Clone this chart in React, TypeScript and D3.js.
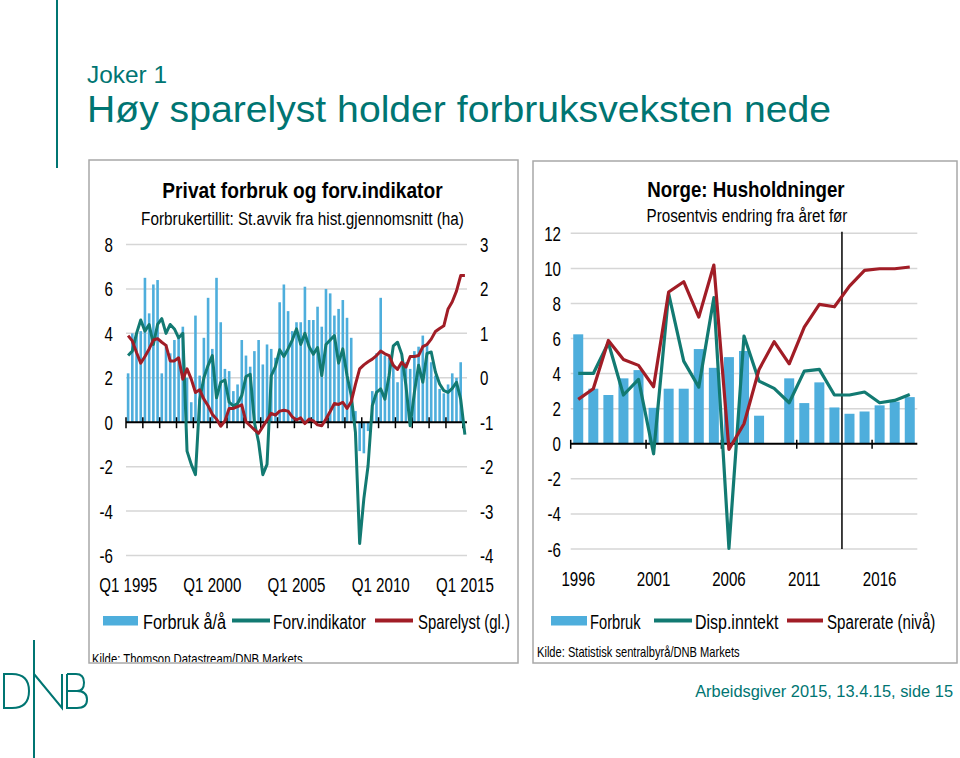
import React from "react";
import * as d3 from "d3";

// ---------- Left chart data (quarterly, Q1 1995 – Q1 2015) ----------
const quarters: string[] = d3.range(81).map((i) => `Q${(i % 4) + 1} ${1995 + Math.floor(i / 4)}`);
const leftXTickLabels = ["Q1 1995", "Q1 2000", "Q1 2005", "Q1 2010", "Q1 2015"];
const leftAxisTicks = [8, 6, 4, 2, 0, -2, -4, -6];
const rightAxisTicks = [3, 2, 1, 0, -1, -2, -3, -4];

// Forbruk å/å (left axis, %)
const forbrukAA: (number | null)[] = [
  2.2, 4.0, 4.0, 4.1, 6.5, 4.9, 6.2, 6.4, 2.2, 3.5,
  3.1, 3.7, 3.8, 4.3, 2.0, 0.9, 4.8, 2.1, 3.8, 5.6,
  3.3, 6.5, 4.5, 2.4, 2.3, 1.4, 1.7, 3.7, 3.0, 2.5,
  3.2, 3.7, 2.6, 3.5, 3.3, 2.9, 5.4, 6.2, 5.0, 4.1,
  4.5, 4.5, 6.1, 4.6, 4.6, 5.2, 4.3, 6.0, 5.8, 4.8,
  5.1, 5.5, 4.7, 3.8, 0.5, -1.3, -1.4, -0.4, 1.4, 3.1,
  5.6, 3.0, 2.9, 2.6, 1.8, 2.6, 2.7, 2.4, 3.2, 3.4,
  3.9, 3.5, 2.7, 2.1, 1.5, 1.3, 1.7, 2.2, 2.0, 2.7,
  null,
];

// Forv.indikator (right axis, st.avvik)
const forvIndikator: number[] = [
  0.5, 0.6, 1.0, 1.3, 1.05, 1.2, 0.75, 1.2, 1.33, 1.0,
  1.2, 1.1, 0.9, 1.0, -1.65, -1.95, -2.18, -0.5, 0.0, 0.28,
  0.5, -0.45, -0.1, -0.05, -0.55, -0.63, -0.58, -0.4, 0.03, 0.08,
  -1.0, -1.45, -2.18, -1.95, 0.05, 0.25, 0.63, 0.48, 0.65, 0.85,
  1.1, 0.75, 1.0, 0.7, 0.53, 0.68, 0.05, 0.75, 0.85, 0.95,
  0.33, 0.65, 0.05, -0.4, -1.23, -3.73, -2.72, -1.98, -0.63, -0.33,
  -0.25, -0.48, 0.05, 0.72, 0.8, 0.53, -0.18, -1.08, -0.33, 0.28,
  -0.1, 0.55, 0.58, 0.13, -0.14, -0.29, -0.33, -0.24, -0.1, -0.48,
  -1.28,
];

// Sparelyst (gl.) (right axis)
const sparelyst: number[] = [
  0.95, 0.83, 0.57, 0.33, 0.48, 0.65, 0.85, 0.88, 0.8, 0.73,
  0.38, 0.38, 0.45, -0.03, 0.2, -0.03, -0.33, -0.27, -0.48, -0.63,
  -0.82, -0.93, -1.09, -0.97, -0.69, -0.69, -0.65, -0.61, -0.99, -1.08,
  -1.17, -1.25, -1.1, -0.95, -0.8, -0.84, -0.75, -0.73, -0.75, -0.88,
  -0.95, -0.9, -1.03, -0.93, -0.97, -1.06, -1.08, -0.93, -0.76, -0.58,
  -0.6, -0.55, -0.69, -0.54, -0.15, 0.2, 0.29, 0.36, 0.42, 0.5,
  0.6, 0.54, 0.5, 0.28, 0.19, 0.35, 0.24, 0.48, 0.48, 0.5,
  0.7, 0.75, 0.87, 1.04, 1.11, 1.17, 1.55, 1.71, 1.95, 2.3,
  2.3,
];

// ---------- Right chart data (annual 1996 – 2018) ----------
const years: string[] = d3.range(1996, 2019).map(String);
const rightXTickLabels = ["1996", "2001", "2006", "2011", "2016"];
const rightChartTicks = [12, 10, 8, 6, 4, 2, 0, -2, -4, -6];
const forbrukYear: number[] = [6.24, 3.14, 2.78, 3.73, 4.2, 2.05, 3.14, 3.14, 5.4, 4.33, 4.94, 5.29, 1.6, 0.0, 3.73, 2.32, 3.5, 2.07, 1.71, 1.84, 2.19, 2.4, 2.66];
const dispInntekt: number[] = [4.01, 4.01, 5.76, 2.78, 3.67, -0.57, 8.56, 4.71, 3.23, 8.33, -5.97, 6.14, 3.57, 3.16, 2.34, 4.14, 4.24, 2.78, 2.78, 2.95, 2.34, 2.47, 2.81];
const sparerate: number[] = [2.53, 3.14, 5.89, 4.81, 4.47, 3.25, 8.65, 9.24, 7.22, 10.19, -0.32, 1.14, 4.24, 5.82, 4.56, 6.65, 7.95, 7.81, 8.99, 9.89, 9.98, 9.98, 10.08];
const forecastStart = "2014";

const TEAL = "#007572";
const LINE_TEAL = "#127a72";
const RED = "#a11d26";
const BLUE = "#4eaedc";
const GRID = "#d6d6d6";
const FONT = "'Liberation Sans', Arial, sans-serif";

type TP = {
  x: number; y: number; children: React.ReactNode; size?: number; anchor?: string;
  sx?: number; weight?: string | number; fill?: string;
};
function T({ x, y, children, size = 21, anchor = "start", sx = 0.72, weight = "normal", fill = "#000" }: TP) {
  return (
    <text transform={`translate(${x},${y}) scale(${sx},1)`} fontSize={size} textAnchor={anchor as any}
      fontWeight={weight as any} fill={fill} fontFamily={FONT}>{children}</text>
  );
}

export default function App() {
  // Left chart scales
  const xL = d3.scaleBand<string>().domain(quarters).range([126, 467]);
  const cxL = (i: number) => (xL(quarters[i]) as number) + xL.bandwidth() / 2;
  const yL = d3.scaleLinear().domain([-6, 8]).range([555.5, 244.5]);
  const yLR = d3.scaleLinear().domain([-4, 3]).range([555.5, 244.5]);
  const lineL = d3.line<number>().x((_, i) => cxL(i)).y((d) => yLR(d));
  const barWL = 2.6;

  // Right chart scales
  const xR = d3.scaleBand<string>().domain(years).range([570.7, 917.3]);
  const cxR = (i: number) => (xR(years[i]) as number) + xR.bandwidth() / 2;
  const yR = d3.scaleLinear().domain([-6, 12]).range([549, 233.3]);
  const lineR = d3.line<number>().x((_, i) => cxR(i)).y((d) => yR(d));
  const barWR = 10;

  const y0L = yL(0);
  const y0R = yR(0);

  return (
    <svg width={960} height={758} style={{ position: "absolute", left: 0, top: 0, background: "#fff" }}
      fontFamily={FONT}>
      <defs>
        <clipPath id="leftPanel"><rect x={89} y={160} width={429} height={502} /></clipPath>
      </defs>
      <rect x={0} y={0} width={960} height={758} fill="#fff" />

      {/* Slide header */}
      <line x1={57} y1={0} x2={57} y2={168} stroke={TEAL} strokeWidth={2} />
      <text x={87} y={83} fontSize={24} fill={TEAL} textLength={80} lengthAdjust="spacingAndGlyphs">Joker 1</text>
      <text x={87} y={122} fontSize={37} fill={TEAL} textLength={744} lengthAdjust="spacingAndGlyphs">Høy sparelyst holder forbruksveksten nede</text>

      {/* Panels */}
      <rect x={89} y={160} width={429} height={503} fill="none" stroke="#a8a8a8" strokeWidth={1.5} />
      <rect x={533} y={161} width={424} height={502} fill="none" stroke="#a8a8a8" strokeWidth={1.5} />

      {/* ===== Left chart ===== */}
      <T x={302.5} y={198} size={22} weight="bold" anchor="middle" sx={0.87}>Privat forbruk og forv.indikator</T>
      <T x={302.5} y={225} size={19} anchor="middle" sx={0.805}>Forbrukertillit:  St.avvik fra hist.gjennomsnitt (ha)</T>

      {leftAxisTicks.filter((t) => t !== 0).map((t) => (
        <line key={"gl" + t} x1={126} x2={467} y1={yL(t)} y2={yL(t)} stroke={GRID} strokeWidth={1.5} />
      ))}
      {leftAxisTicks.map((t) => (
        <T key={"ll" + t} x={113} y={yL(t) + 7.5} anchor="end">{t}</T>
      ))}
      {rightAxisTicks.map((t) => (
        <T key={"lr" + t} x={480} y={yLR(t) + 7.5}>{t}</T>
      ))}

      {forbrukAA.map((v, i) =>
        v == null ? null : (
          <rect key={"bl" + i} x={cxL(i) - barWL / 2} width={barWL}
            y={Math.min(yL(v), y0L)} height={Math.abs(yL(v) - y0L)} fill={BLUE} />
        )
      )}

      <line x1={126} x2={467} y1={y0L} y2={y0L} stroke="#000" strokeWidth={2} />
      {d3.range(0, 81, 4).map((k) => {
        const x = xL(quarters[k]) as number;
        return <line key={"tl" + k} x1={x} x2={x} y1={y0L - 5} y2={y0L + 6} stroke="#000" strokeWidth={1.5} />;
      })}

      <path d={lineL(forvIndikator) || ""} fill="none" stroke={LINE_TEAL} strokeWidth={3} strokeLinejoin="round" />
      <path d={lineL(sparelyst) || ""} fill="none" stroke={RED} strokeWidth={3} strokeLinejoin="round" />

      {leftXTickLabels.map((lab) => (
        <T key={"xl" + lab} x={cxL(quarters.indexOf(lab))} y={592} anchor="middle">{lab}</T>
      ))}

      {/* Left legend */}
      <rect x={103} y={616} width={35} height={9.5} fill={BLUE} />
      <T x={143} y={629} sx={0.775}>Forbruk å/å</T>
      <line x1={232} x2={270} y1={620.5} y2={620.5} stroke={LINE_TEAL} strokeWidth={4} />
      <T x={273} y={629} sx={0.74}>Forv.indikator</T>
      <line x1={375} x2={413} y1={620.5} y2={620.5} stroke={RED} strokeWidth={4} />
      <T x={418} y={629} sx={0.71}>Sparelyst (gl.)</T>

      <g clipPath="url(#leftPanel)">
        <T x={92} y={664} size={14} sx={0.81}>Kilde: Thomson  Datastream/DNB  Markets</T>
      </g>

      {/* ===== Right chart ===== */}
      <T x={746} y={197} size={22} weight="bold" anchor="middle" sx={0.85}>Norge: Husholdninger</T>
      <T x={747} y={222} size={19} anchor="middle" sx={0.8}>Prosentvis endring fra året før</T>

      {rightChartTicks.filter((t) => t !== 0).map((t) => (
        <line key={"gr" + t} x1={570.7} x2={917.3} y1={yR(t)} y2={yR(t)} stroke={GRID} strokeWidth={1.5} />
      ))}
      {rightChartTicks.map((t) => (
        <T key={"rl" + t} x={561} y={yR(t) + 7.5} anchor="end">{t}</T>
      ))}

      {forbrukYear.map((v, i) => (
        <rect key={"br" + i} x={cxR(i) - barWR / 2} width={barWR}
          y={Math.min(yR(v), y0R)} height={Math.abs(yR(v) - y0R)} fill={BLUE} />
      ))}

      <line x1={570.7} x2={917.3} y1={y0R} y2={y0R} stroke="#000" strokeWidth={2} />
      {d3.range(0, 21, 5).map((k) => {
        const x = xR(years[k]) as number;
        return <line key={"tr" + k} x1={x} x2={x} y1={y0R - 4} y2={y0R + 5} stroke="#000" strokeWidth={1.5} />;
      })}
      <line x1={xR(forecastStart) as number} x2={xR(forecastStart) as number} y1={yR(12) - 1.5} y2={yR(-6)}
        stroke="#000" strokeWidth={1.5} />

      <path d={lineR(dispInntekt) || ""} fill="none" stroke={LINE_TEAL} strokeWidth={3.2} strokeLinejoin="round" />
      <path d={lineR(sparerate) || ""} fill="none" stroke={RED} strokeWidth={3.2} strokeLinejoin="round" />

      {rightXTickLabels.map((lab) => (
        <T key={"xr" + lab} x={cxR(years.indexOf(lab))} y={586} anchor="middle">{lab}</T>
      ))}

      {/* Right legend */}
      <rect x={551} y={616} width={36} height={9.5} fill={BLUE} />
      <T x={590} y={629} sx={0.7}>Forbruk</T>
      <line x1={654} x2={692} y1={620.5} y2={620.5} stroke={LINE_TEAL} strokeWidth={4} />
      <T x={695} y={629} sx={0.76}>Disp.inntekt</T>
      <line x1={787} x2={823} y1={620.5} y2={620.5} stroke={RED} strokeWidth={4} />
      <T x={827} y={629} sx={0.72}>Sparerate (nivå)</T>

      <T x={537} y={657} size={14} sx={0.795}>Kilde: Statistisk sentralbyrå/DNB  Markets</T>

      {/* Footer */}
      <text x={953} y={697} fontSize={16.4} fill={TEAL} textAnchor="end">Arbeidsgiver 2015, 13.4.15, side 15</text>

      {/* DNB logo */}
      <g fill="none" stroke={TEAL} strokeWidth={2}>
        <line x1={34} y1={640} x2={34} y2={758} />
        <path d="M4,674 L4,708 L12,708 Q29,708 29,691 Q29,674 12,674 Z" />
        <path d="M34,674 L62,708 L62,674" />
        <path d="M67,674 L67,708 L77,708 Q87,708 87,699.5 Q87,691 77,691 L67,691 M77,691 Q84,691 84,682.5 Q84,674 76,674 L67,674" />
      </g>
    </svg>
  );
}
